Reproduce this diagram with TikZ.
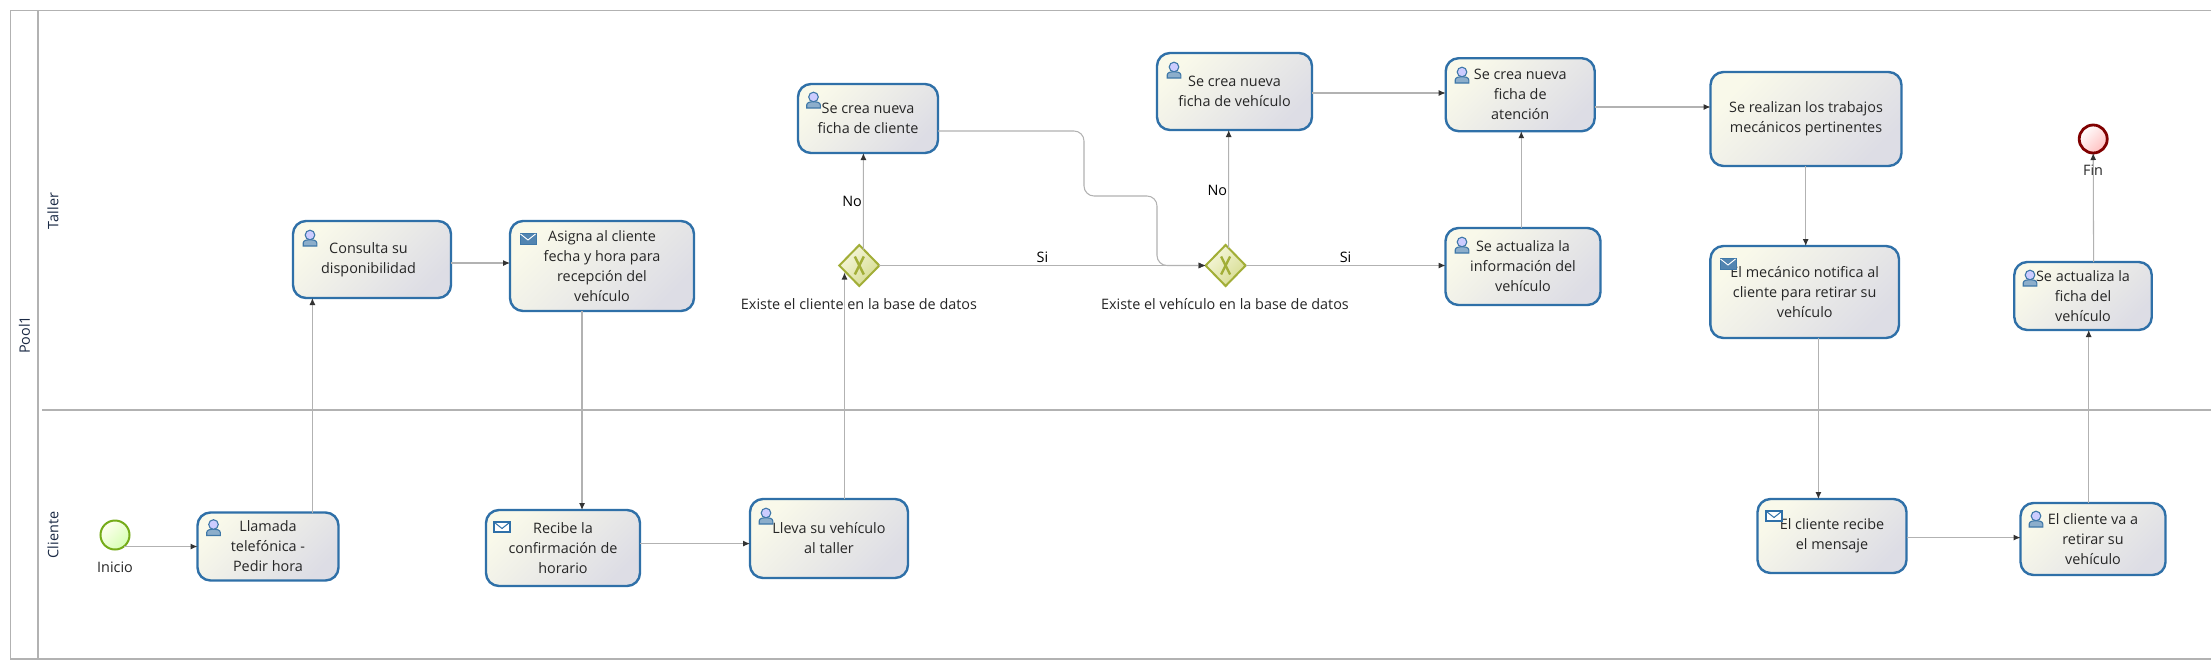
\documentclass[tikz,border=0pt]{standalone}
\usepackage{xcolor}
\usepackage{fontspec}
\setmainfont{Open Sans}
\usepackage{tikz}
\usetikzlibrary{calc}
\usetikzlibrary{arrows.meta}
\usetikzlibrary{shapes.geometric}
\definecolor{framegray}{HTML}{B2B2B2}
\definecolor{taskblue}{HTML}{2F70A8}
\definecolor{tasktop}{HTML}{F9F9EA}
\definecolor{taskbot}{HTML}{DDDDE5}
\definecolor{iconblue}{HTML}{3F78A8}
\definecolor{gateline}{HTML}{A2AE37}
\definecolor{gatetop}{HTML}{F6F7DC}
\definecolor{gatebot}{HTML}{D6DC90}
\definecolor{lanetextcol}{HTML}{1B2A45}
\newcommand{\diagramfont}{\fontsize{14.4}{20}\selectfont}
\tikzset{>=latex}
\tikzset{flow/.style={draw=framegray, line width=1.05pt, -{Latex[length=7pt,width=6pt,color=black!80]}}}
\tikzset{poolline/.style={draw=framegray, line width=1.6pt}}
\tikzset{task/.style={rectangle, rounded corners=13pt, draw=taskblue, line width=2.4pt, top color=tasktop, bottom color=taskbot, shading angle=45, outer sep=0pt, align=center, font=\diagramfont, text=black!85, execute at begin node={\rule{0pt}{15pt}}}}
\tikzset{gateway/.style={diamond, draw=gateline, line width=2pt, top color=gatetop, bottom color=gatebot, shading angle=45, minimum width=40pt, minimum height=41pt, inner sep=0pt, outer sep=0pt}}
\tikzset{gatemark/.style={draw=gateline, line width=2.4pt}}
\tikzset{caption/.style={inner sep=0pt, font=\diagramfont, text=black!85}}
\tikzset{flowlabel/.style={draw=none, inner sep=1pt, text=black, font=\diagramfont}}
\tikzset{lanetext/.style={inner sep=0pt, rotate=90, font=\diagramfont, text=lanetextcol}}
\tikzset{usericon/.pic={
  \draw [draw=iconblue, line width=1.1pt, fill=iconblue!60] (-6.8,8) -- (-6.8,5) .. controls (-6.8,2.5) and (-3,1.5) .. (0,1.5) .. controls (3,1.5) and (6.8,2.5) .. (6.8,5) -- (6.8,8) -- cycle;
  \draw [draw=iconblue, line width=1.1pt, fill=blue!20!white] (0,-3) circle (4.8);
}}
\tikzset{sendicon/.pic={
  \draw [draw=iconblue, line width=1pt, fill=iconblue!90] (-8,-5.5) rectangle (8,5.5);
  \draw [draw=white, line width=0.9pt] (-7.5,-5) -- (0,1) -- (7.5,-5);
}}
\tikzset{recvicon/.pic={
  \draw [draw=taskblue, line width=1.1pt, fill=white] (-8,-5) rectangle (8,5);
  \draw [draw=taskblue, line width=1pt] (-7.5,-4.5) -- (0,1.5) -- (7.5,-4.5);
}}
\begin{document}
\begin{tikzpicture}[x=1pt, y=-1pt]
\useasboundingbox (0,0) rectangle (2211,670);
\fill [white] (0,0) rectangle (2211,670);
\draw [poolline] (2220,10.5) -- (10.5,10.5) -- (10.5,659) -- (2220,659);
\draw [poolline, line width=2.6pt] (38,10.5) -- (38,659);
\draw [poolline, line width=2.6pt] (42,410) -- (2220,410);
\node [lanetext] (Pool) at (24.5,335) {Pool1};
\node [lanetext] (Taller) at (53,211) {Taller};
\node [lanetext] (Cliente) at (53,535) {Cliente};

\node [circle, draw=green!40!black!60!yellow!90, line width=2pt, top color=yellow!6, bottom color=yellow!45!green!30, shading angle=45, minimum size=29pt, inner sep=0pt, outer sep=0pt] (Inicio) at (115,535) {};
\node [caption] (InicioTxt) at (115,567) {Inicio};
\node [task, minimum width=141pt, minimum height=68pt] (Llamada) at (268,546.5) {Llamada\\telefónica -\\Pedir hora};
\node [task, minimum width=158pt, minimum height=77pt] (Consulta) at (372,259.5) {\hspace*{-7pt}Consulta su\\\hspace*{-7pt}disponibilidad};
\node [task, minimum width=184pt, minimum height=90pt] (Asigna) at (602,266) {Asigna al cliente\\fecha y hora para\\recepción del\\vehículo};
\node [task, minimum width=154pt, minimum height=76pt] (Recibe) at (563,548) {Recibe la\\confirmación de\\horario};
\node [task, minimum width=158pt, minimum height=79pt] (Lleva) at (829,538.5) {Lleva su vehículo\\al taller};
\node [gateway] (GwCliente) at (859.3,265.5) {};
\node [caption] (GwClienteTxt) at (859,304) {Existe el cliente en la base de datos};
\node [task, minimum width=140pt, minimum height=69pt] (NuevoCliente) at (868,118.5) {Se crea nueva\\ficha de cliente};
\node [gateway] (GwVehiculo) at (1225.6,265.5) {};
\node [caption] (GwVehiculoTxt) at (1225,304) {Existe el vehículo en la base de datos};
\node [task, minimum width=155pt, minimum height=77pt] (NuevoVehiculo) at (1234.5,91.5) {Se crea nueva\\ficha de vehículo};
\node [task, minimum width=149pt, minimum height=73pt] (Atencion) at (1520.2,94.7) {Se crea nueva\\ficha de\\atención};
\node [task, minimum width=155pt, minimum height=77pt] (Info) at (1523,266.5) {Se actualiza la\\información del\\vehículo};
\node [task, minimum width=191pt, minimum height=94pt] (Trabajos) at (1806,119) {Se realizan los trabajos\\mecánicos pertinentes};
\node [task, minimum width=188.6pt, minimum height=92pt] (Notifica) at (1804.7,292) {El mecánico notifica al\\cliente para retirar su\\vehículo};
\node [task, minimum width=149pt, minimum height=74pt] (Mensaje) at (1832,536) {El cliente recibe\\el mensaje};
\node [task, minimum width=145pt, minimum height=72pt] (Retirar) at (2093,539) {El cliente va a\\retirar su\\vehículo};
\node [task, minimum width=137.5pt, minimum height=68pt] (Ficha) at (2083,296) {Se actualiza la\\ficha del\\vehículo};
\node [circle, draw=red!50!black, line width=2.8pt, top color=white, bottom color=red!25!white, shading angle=45, minimum size=28pt, inner sep=0pt, outer sep=0pt] (Fin) at (2093.2,139) {};
\node [caption] (FinTxt) at (2093,170.5) {Fin};

\pic at (213.5,527.5) {usericon};
\pic at (310,238) {usericon};
\pic at (528,239) {sendicon};
\pic at (502,527) {recvicon};
\pic at (766,516) {usericon};
\pic at (813.5,100) {usericon};
\pic at (1174,70) {usericon};
\pic at (1462,75) {usericon};
\pic at (1462,245) {usericon};
\pic at (1728,264) {sendicon};
\pic at (1774,516) {recvicon};
\pic at (2036,519) {usericon};
\pic at (2030,278) {usericon};

\draw [gatemark] ([shift={(-4.5,-9)}]GwCliente.center) -- ([shift={(4.5,9)}]GwCliente.center);
\draw [gatemark] ([shift={(4.5,-9)}]GwCliente.center) -- ([shift={(-4.5,9)}]GwCliente.center);
\draw [gatemark] ([shift={(-4.5,-9)}]GwVehiculo.center) -- ([shift={(4.5,9)}]GwVehiculo.center);
\draw [gatemark] ([shift={(4.5,-9)}]GwVehiculo.center) -- ([shift={(-4.5,9)}]GwVehiculo.center);

\draw [flow] ([shift={(9,11.5)}]Inicio.center) -- (Llamada.west);
\draw [flow] ([xshift=44.4pt]Llamada.north) -- ([xshift=-59.6pt]Consulta.south);
\draw [flow] ([yshift=-3.5pt]Consulta.east) -- ([yshift=3pt]Asigna.west);
\draw [flow] ([xshift=-20pt]Asigna.south) -- ([xshift=19pt]Recibe.north);
\draw [flow] ([yshift=4.4pt]Recibe.east) -- ([yshift=-5.1pt]Lleva.west);
\draw [flow] ([xshift=15.5pt]Lleva.north) -- ([shift={(-14.8,7)}]GwCliente.center);
\draw [flow] ([shift={(4.1,-16)}]GwCliente.center) -- ([xshift=-4.6pt]NuevoCliente.south) node[pos=0.5, left, flowlabel] (LblNo) {No};
\draw [flow] (GwCliente.east) -- (GwVehiculo.west) node[pos=0.5, above, flowlabel, inner sep=2pt] (LblSi) {Si};
\draw [flow, rounded corners=10pt] ([yshift=-12.5pt]NuevoCliente.east) -- ++(146,0) -- ++(0,65) -- ++(73,0) -- ++(0,69.5) -- (GwVehiculo.west);
\draw [flow] ([shift={(3.1,-17.6)}]GwVehiculo.center) -- ([xshift=-5.8pt]NuevoVehiculo.south) node[pos=0.49, left, flowlabel] (LblNoB) {No};
\draw [flow] (GwVehiculo.east) -- ([yshift=1pt]Info.west) node[pos=0.5, above, flowlabel, inner sep=2pt] (LblSiB) {Si};
\draw [flow] ([yshift=-1.5pt]NuevoVehiculo.east) -- ([yshift=1.7pt]Atencion.west);
\draw [flow] ([xshift=-1.7pt]Info.north) -- ([xshift=1.1pt]Atencion.south);
\draw [flow] ([yshift=-12.3pt]Atencion.east) -- ([yshift=12pt]Trabajos.west);
\draw [flow] ([xshift=-0.3pt]Trabajos.south) -- ([xshift=1pt]Notifica.north);
\draw [flow] ([xshift=13.7pt]Notifica.south) -- ([xshift=-13.6pt]Mensaje.north);
\draw [flow] ([yshift=-1.6pt]Mensaje.east) -- ([yshift=1.4pt]Retirar.west);
\draw [flow] ([xshift=-4.3pt]Retirar.north) -- ([xshift=5.7pt]Ficha.south);
\draw [flow] ([xshift=10.6pt]Ficha.north) -- (Fin.south);
\end{tikzpicture}
\end{document}
